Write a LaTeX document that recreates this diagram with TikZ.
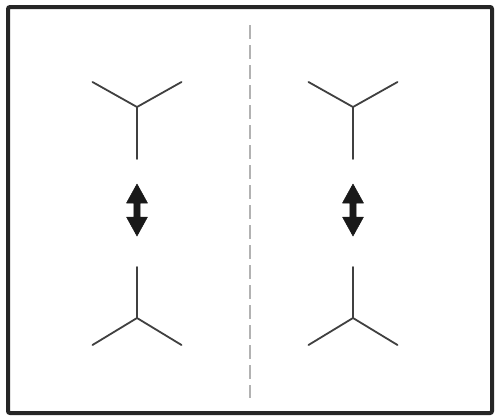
\documentclass[tikz,border=0pt]{standalone}
\begin{document}
\begin{tikzpicture}[x=1pt,y=-1pt,
  yline/.style={draw=black!75,line width=1.8pt,line cap=round,line join=round},
  frame/.style={draw=black!85,line width=4pt,rounded corners=2pt},
  divider/.style={draw=black!30,line width=1.2pt,dash pattern=on 14pt off 6pt},
  dblarrow/.style={fill=black!90,draw=black!90,line width=0.5pt,line join=round}]
\useasboundingbox (0,0) rectangle (498,418);
\fill[white] (0,0) rectangle (498,418);
\draw[frame] (8,7) rectangle (492,413);
\draw[divider] (250,25) -- (250,398);
\foreach \cx in {137,353} {
  % top Y
  \coordinate (tc) at (\cx,107);
  \draw[yline] (\cx-44.5,82) -- (tc) -- (\cx+44.5,82);
  \draw[yline] (tc) -- (\cx,159);
  % bottom Y
  \coordinate (bc) at (\cx,318);
  \draw[yline] (\cx-44.5,345) -- (bc) -- (\cx+44.5,345);
  \draw[yline] (bc) -- (\cx,267);
  % double arrow
  \filldraw[dblarrow] (\cx,184) -- (\cx+10.5,203) -- (\cx+3.2,203) -- (\cx+3.2,217)
    -- (\cx+10.5,217) -- (\cx,236) -- (\cx-10.5,217) -- (\cx-3.2,217)
    -- (\cx-3.2,203) -- (\cx-10.5,203) -- cycle;
}
\end{tikzpicture}
\end{document}
